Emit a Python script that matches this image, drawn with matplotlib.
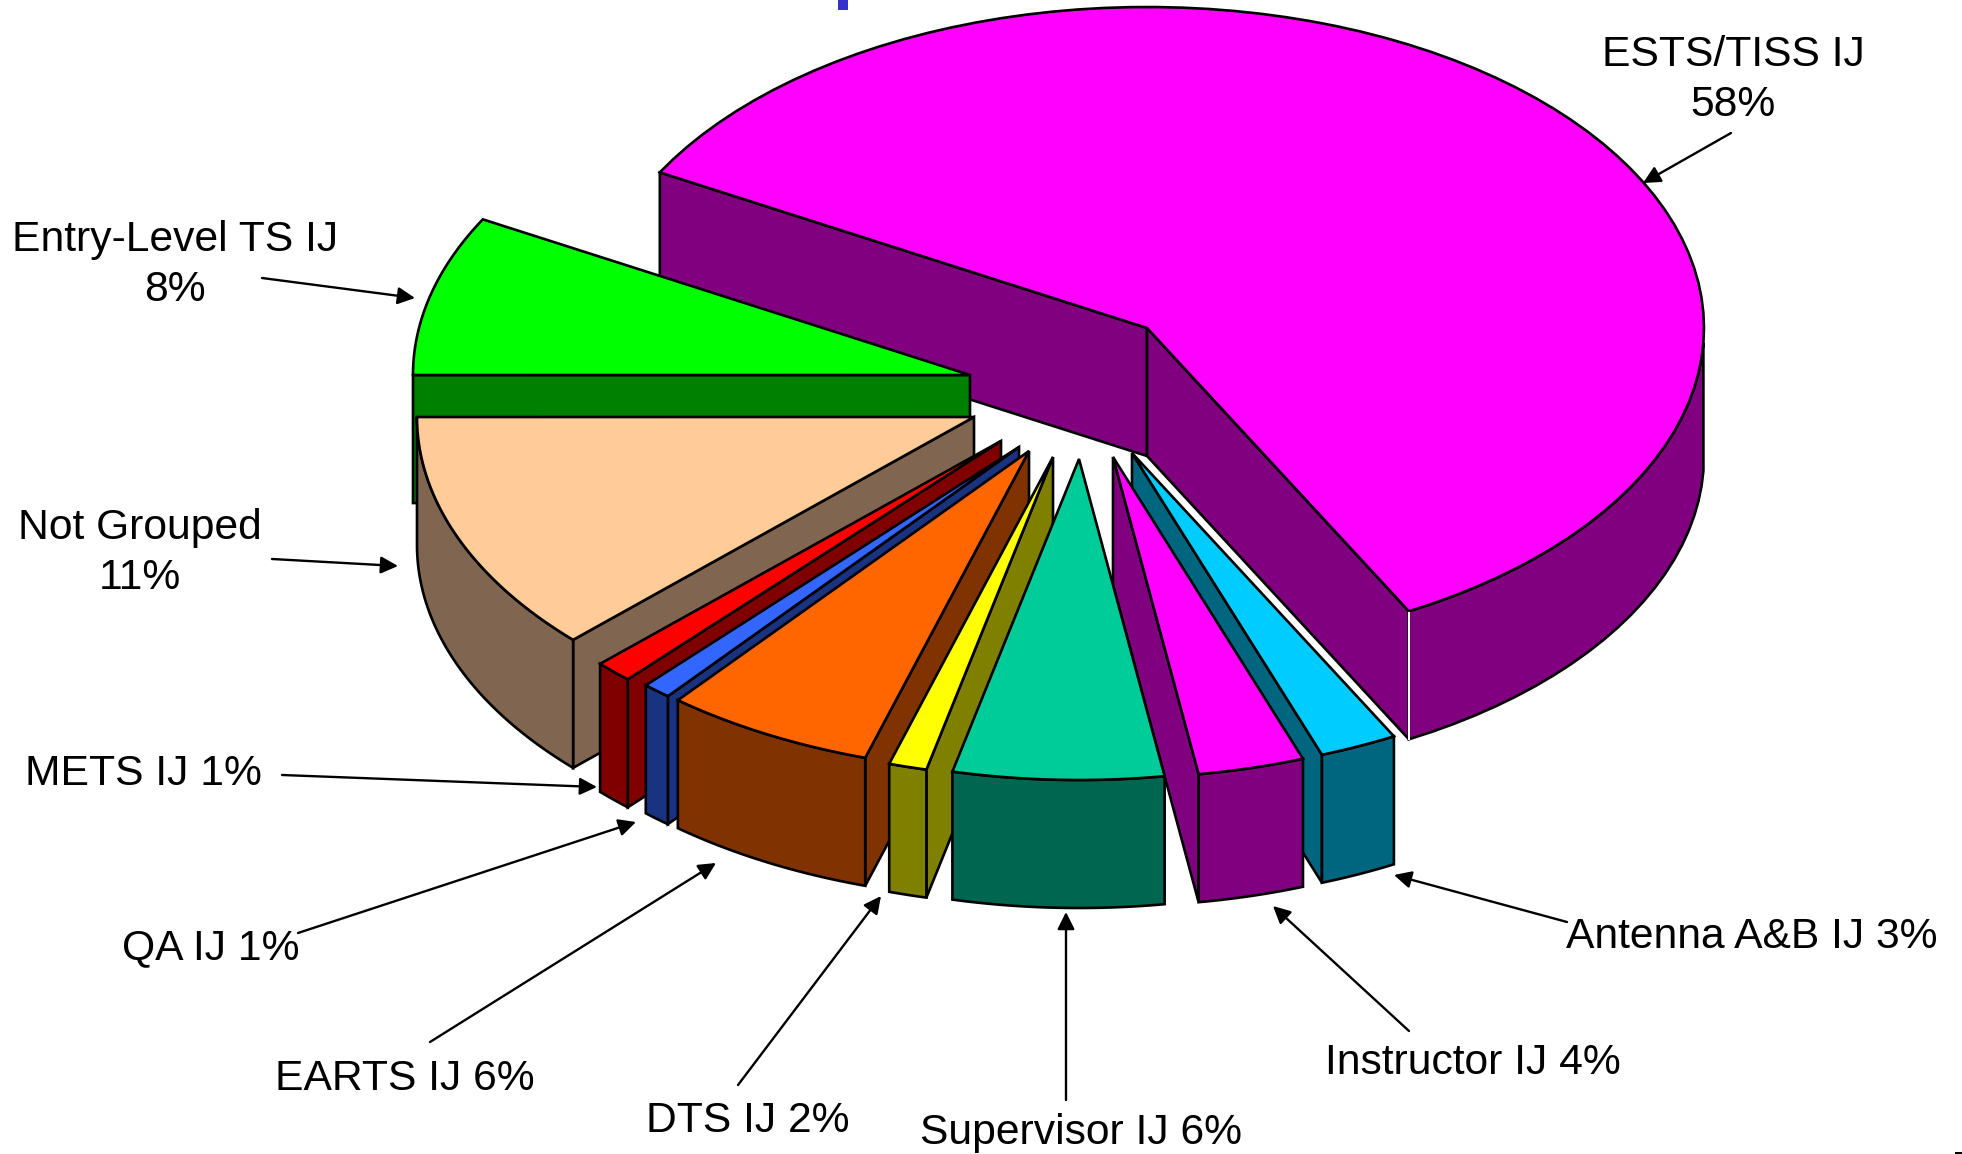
import matplotlib
matplotlib.use('Agg')
import matplotlib.pyplot as plt
import numpy as np

# clockwise from the big slice, shares
names = ['ESTS/TISS IJ\n58%', 'Antenna A&B IJ 3%', 'Instructor IJ 4%', 'Supervisor IJ 6%', 'DTS IJ 2%',
         'EARTS IJ 6%', 'QA IJ 1%', 'METS IJ 1%', 'Not Grouped\n11%', 'Entry-Level TS IJ\n8%']
shares = [59.1, 2.25, 3.08, 6.1, 1.1, 6.1, 0.83, 1.1, 12.2, 8.05]

topColors = ['#FF00FF', '#00CCFF', '#FF00FF', '#00CC99', '#FFFF00',
             '#FF6600', '#3366FF', '#FF0000', '#FFCC99', '#00FF00']
wallColors = ['#800080', '#006680', '#800080', '#006650', '#808000',
              '#803300', '#1A3380', '#800000', '#806650', '#008000']

# layout, in pixels
CX, CY = 1147, 328
RX, RY = 557, 321
DEPTH = 128
START = 151
explode = [(0, 0), (-15, 125), (-34, 129), (-68, 131), (-94, 129),
           (-118, 123), (-128, 119), (-146, 113), (-173, 89), (-177, 47)]
labelPos = [(1733, 80), (1752, 937), (1473, 1063), (1081, 1133), (748, 1121),
            (405, 1079), (211, 948), (143, 774), (140, 553), (175, 265)]
arrowTail = [(1731, 133), (1567, 922), (1409, 1031), (1066, 1100), (738, 1085),
             (430, 1042), (298, 933), (282, 775), (272, 559), (262, 278)]
arrowHead = [(1643, 183), (1394, 875), (1273, 906), (1066, 912), (881, 896),
             (716, 863), (636, 822), (597, 787), (398, 566), (415, 298)]
drawOrder = [0, 9, 8, 7, 6, 5, 4, 1, 2, 3]

plt.rcParams['font.family'] = ['Liberation Sans', 'DejaVu Sans']


def drawSlice(ax, ox, oy, t1, t2, top, wall):
    # t1 > t2, angles in degrees on the ellipse, going clockwise
    ts = np.radians(np.linspace(t1, t2, 80))
    xs = ox + RX * np.cos(ts)
    ys = oy - RY * np.sin(ts)
    style = dict(edgecolor='black', linewidth=1.9, joinstyle='miter')

    # side walls, only those that face the viewer
    if np.cos(np.radians(t1)) < 0:
        ax.fill([ox, xs[0], xs[0], ox], [oy, ys[0], ys[0] + DEPTH, oy + DEPTH], facecolor=wall, **style)
    if np.cos(np.radians(t2)) > 0:
        ax.fill([ox, xs[-1], xs[-1], ox], [oy, ys[-1], ys[-1] + DEPTH, oy + DEPTH], facecolor=wall, **style)

    # outer rim, front half only
    front = np.degrees(ts)
    keep = (front <= 0) & (front >= -180)
    if keep.sum() > 1:
        rx = xs[keep]
        ry = ys[keep]
        ax.fill(np.r_[rx, rx[::-1]], np.r_[ry, ry[::-1] + DEPTH], facecolor=wall, **style)

    ax.fill(np.r_[ox, xs], np.r_[oy, ys], facecolor=top, **style)


def generatePlot():
    fig = plt.figure(figsize=(19.62, 11.54), dpi=100)
    ax = fig.add_axes([0, 0, 1, 1])
    ax.set_xlim(0, 1962)
    ax.set_ylim(1154, 0)
    ax.axis('off')

    spans = np.array(shares) / sum(shares) * 360
    ends = START - np.cumsum(spans)
    starts = ends + spans

    for i in drawOrder:
        drawSlice(ax, CX + explode[i][0], CY + explode[i][1], starts[i], ends[i], topColors[i], wallColors[i])
        if i == 0:
            # thin white seam where the wall meets the rim of the big slice
            seamX = CX + RX * np.cos(np.radians(ends[0]))
            seamY = CY - RY * np.sin(np.radians(ends[0]))
            ax.plot([seamX, seamX], [seamY + 2, seamY + DEPTH], color='white', lw=1.5)

    for i in range(len(names)):
        ax.text(labelPos[i][0], labelPos[i][1], names[i], fontsize=30.7, ha='center', va='center',
                multialignment='center', linespacing=1.3, color='black')
        ax.annotate('', xy=arrowHead[i], xytext=arrowTail[i],
                    arrowprops=dict(arrowstyle='-|>', color='black', lw=1.7, mutation_scale=26,
                                    shrinkA=0, shrinkB=0))

    # cut off bits at the picture edges
    ax.fill([838, 848, 848, 838], [0, 0, 10, 10], color='#3333CC', linewidth=0)
    ax.fill([1955, 1962, 1962, 1955], [1152, 1152, 1154, 1154], color='black', linewidth=0)

    fig.savefig('out.png', dpi=100)


generatePlot()
